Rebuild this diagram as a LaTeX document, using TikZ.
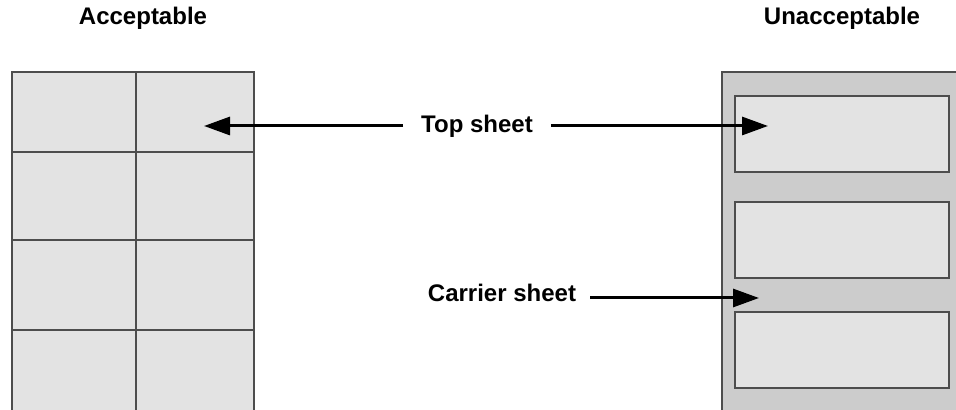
\documentclass[tikz,border=0pt]{standalone}
\usepackage{fontspec}
\setmainfont{Liberation Sans}
\usetikzlibrary{arrows.meta}

\begin{document}
\begin{tikzpicture}[x=0.5pt, y=-0.5pt, line join=miter]

                \definecolor{sheetgray}{HTML}{CCCCCC}
                \definecolor{labelgray}{HTML}{E3E3E3}
                \definecolor{edgegray}{HTML}{4D4D4D}

                \tikzset{
                  title/.style      = {font=\bfseries\fontsize{12}{14}\selectfont},
                  label_box/.style  = {fill=labelgray,draw=edgegray,line width=0.9pt},
                  carrier/.style    = {fill=sheetgray,draw=edgegray,line width=1.2pt},
                  pointer/.style    = {line width=1.5pt,-{Triangle[length=13pt,width=9pt]}}
                }

                \useasboundingbox (0,0) rectangle (956,410);
                \clip (0,0) rectangle (956,410);

                % titles
                \node[title] (acc) at (143,18) {Acceptable};
                \node[title] (unacc) at (842,18) {Unacceptable};

                % acceptable: labels butted together
                \foreach \row/\ytop/\ybot in {0/72/152, 1/152/240, 2/240/330, 3/330/420}{
                    \draw[label_box] (12,\ytop) rectangle (136,\ybot);
                    \draw[label_box] (136,\ytop) rectangle (254,\ybot);
                }

                % unacceptable: labels on a carrier
                \draw[carrier] (722,72) rectangle (980,420);
                \foreach \ytop/\ybot in {96/172, 202/278, 312/388}{
                    \draw[label_box] (735,\ytop) rectangle (949,\ybot);
                }

                % pointers
                \coordinate (topL) at (204,126);
                \coordinate (topR) at (768,126);
                \coordinate (carrierR) at (759,298);
                \coordinate (carrierS) at (590,298);

                \node[title] (top) at (477,126) {Top sheet};
                \node[title] (carr) at (502,293) {Carrier sheet};

                \draw[pointer] (top.west) ++(-11,0) coordinate (topA) -- (topL);
                \draw[pointer] (top.east) ++(11,0) coordinate (topB) -- (topR);
                \draw[pointer] (carrierS) -- (carrierR);
            \end{tikzpicture}
\end{document}
